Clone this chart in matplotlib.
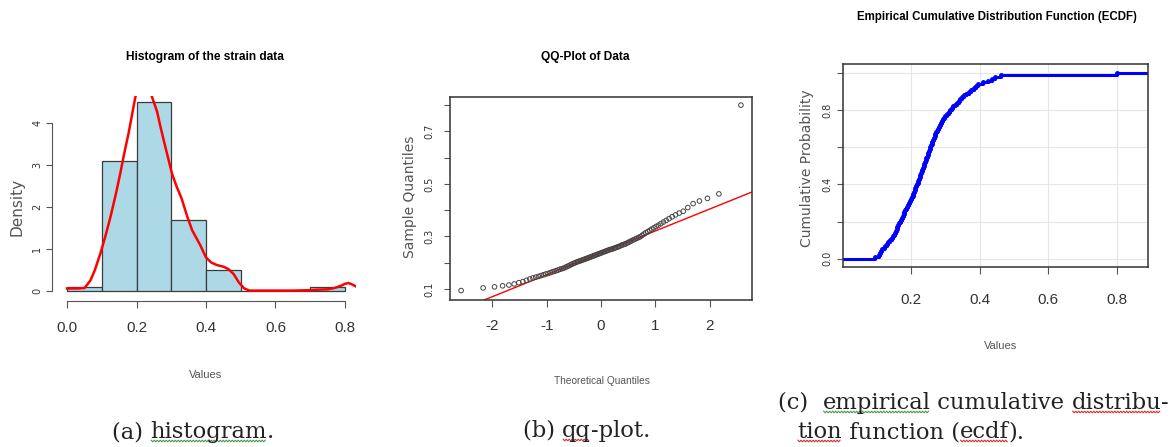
import statistics
import numpy as np
import matplotlib
matplotlib.use("Agg")
import matplotlib.pyplot as plt

strain = [0.094,
          0.104, 0.108, 0.112, 0.115, 0.119, 0.124, 0.128, 0.133, 0.138,
          0.142, 0.145, 0.148, 0.151, 0.154, 0.157, 0.159,
          0.162, 0.165, 0.167, 0.170, 0.172, 0.175, 0.177, 0.179,
          0.182, 0.185, 0.188, 0.191, 0.194, 0.197, 0.199,
          0.202, 0.204, 0.206, 0.208, 0.210, 0.212, 0.214, 0.216,
          0.218, 0.220, 0.222, 0.224, 0.226, 0.228, 0.230, 0.232, 0.234, 0.236,
          0.238, 0.240, 0.242, 0.244, 0.246, 0.248, 0.250, 0.251, 0.253, 0.255,
          0.257, 0.259, 0.261, 0.263, 0.266, 0.268, 0.270, 0.272, 0.275, 0.278,
          0.281, 0.284, 0.287, 0.290, 0.293, 0.296, 0.299,
          0.304, 0.309, 0.314, 0.318, 0.323, 0.328, 0.333, 0.338,
          0.343, 0.349, 0.355, 0.361, 0.368, 0.375, 0.382, 0.389, 0.396,
          0.410, 0.425, 0.435, 0.445, 0.462,
          0.800]

# red density curve on the histogram
kde_x = [0.000, 0.030, 0.050, 0.067, 0.080, 0.096, 0.110, 0.125, 0.140, 0.153,
         0.165, 0.177, 0.188, 0.196, 0.205, 0.215, 0.225, 0.235, 0.244, 0.252,
         0.259, 0.268, 0.278, 0.290, 0.302, 0.315, 0.330, 0.345, 0.360, 0.383,
         0.400, 0.415, 0.431, 0.450, 0.465, 0.480, 0.495, 0.510, 0.525, 0.550,
         0.600, 0.650, 0.700, 0.720, 0.750, 0.770, 0.790, 0.800, 0.810, 0.820,
         0.834]
kde_y = [0.06, 0.06, 0.07, 0.25, 0.50, 0.90, 1.30, 1.77, 2.30, 2.80,
         3.30, 3.76, 4.25, 4.60, 4.90, 5.00, 4.95, 4.85, 4.64, 4.45,
         4.28, 3.95, 3.60, 3.20, 2.80, 2.50, 2.20, 1.80, 1.45, 1.10,
         0.80, 0.68, 0.62, 0.58, 0.52, 0.40, 0.20, 0.06, 0.01, 0.01,
         0.01, 0.01, 0.02, 0.03, 0.04, 0.07, 0.13, 0.17, 0.19, 0.16,
         0.10]

hist_breaks = [0.0, 0.1, 0.2, 0.3, 0.4, 0.5, 0.6, 0.7, 0.8]
hist_xticks = [0.0, 0.2, 0.4, 0.6, 0.8]
hist_yticks = [0, 1, 2, 3, 4]
qq_xticks = [-2, -1, 0, 1, 2]
qq_yticks = [0.1, 0.2, 0.3, 0.4, 0.5, 0.6, 0.7, 0.8]
qq_ylabels = ["0.1", "", "0.3", "", "0.5", "", "0.7", ""]
ecdf_xticks = [0.2, 0.4, 0.6, 0.8]
ecdf_yticks = [0.0, 0.2, 0.4, 0.6, 0.8, 1.0]
ecdf_ylabels = ["0.0", "", "0.4", "", "0.8", ""]

W, H = 1175, 447
NARROW = ["Liberation Sans", "DejaVu Sans"]
WIDE = ["DejaVu Sans"]
SERIF = ["DejaVu Serif"]
plt.rcParams["font.family"] = NARROW

fig = plt.figure(figsize=(W / 100, H / 100), dpi=100)


def px_axes(left, top, right, bottom):
    return fig.add_axes([left / W, 1 - bottom / H, (right - left) / W, (bottom - top) / H])


def ftext(x, y, s, **kw):
    return fig.text(x / W, 1 - y / H, s, ha="center", va="center", **kw)


def style_ticks(ax, xpad, ypad, ylen=4):
    ax.tick_params(axis="x", length=5, width=0.8, color="#555555", pad=xpad,
                   labelsize=11, labelcolor="#333333")
    ax.tick_params(axis="y", length=ylen, width=0.8, color="#555555", pad=ypad,
                   labelsize=7, labelcolor="#333333")
    for lab in ax.get_yticklabels():
        lab.set_rotation(90)
        lab.set_va("center")
        lab.set_family(WIDE)


# ---- (a) histogram
ax1 = px_axes(56, 96, 356, 298.5)
ax1.hist(strain, bins=hist_breaks, density=True, color="lightblue",
         edgecolor="#3c3c3c", linewidth=0.9)
ax1.plot(kde_x, kde_y, color="red", linewidth=1.8)
ax1.set_xlim(-0.032, 0.832)
ax1.set_ylim(-0.179, 4.65)
for side in ["top", "right"]:
    ax1.spines[side].set_visible(False)
ax1.spines["left"].set_bounds(0, 4)
ax1.spines["bottom"].set_bounds(0, 0.8)
ax1.spines["left"].set_position(("outward", 3))
ax1.spines["bottom"].set_position(("outward", 2))
for side in ["left", "bottom"]:
    ax1.spines[side].set_color("#555555")
    ax1.spines[side].set_linewidth(0.8)
ax1.set_xticks(hist_xticks)
ax1.set_xticklabels(["%.1f" % v for v in hist_xticks])
ax1.set_yticks(hist_yticks)
ax1.set_yticklabels([str(v) for v in hist_yticks])
style_ticks(ax1, 9, 3)

ftext(205, 57, "Histogram of the strain data", fontsize=8.6, fontweight="bold")
ftext(17, 207, "Density", rotation=90, fontsize=11, color="#555555", family=WIDE)
ftext(206, 375, "Values", fontsize=8, color="#555555")

# ---- (b) qq-plot
ax2 = px_axes(450, 97, 752, 300)
n = len(strain)
nd = statistics.NormalDist()
theo = [nd.inv_cdf((i + 0.5) / n) for i in range(n)]
ax2.scatter(theo, sorted(strain), s=11, facecolors="none", edgecolors="#444444",
            linewidths=0.7, zorder=3)
q1, q3 = np.percentile(strain, [25, 75])
z1, z3 = nd.inv_cdf(0.25), nd.inv_cdf(0.75)
slope = (q3 - q1) / (z3 - z1)
ax2.axline((z1, q1), slope=slope, color="red", linewidth=1.0, zorder=2)
ax2.set_xlim(-2.78, 2.78)
ax2.set_ylim(0.058, 0.831)
ax2.set_xticks(qq_xticks)
ax2.set_xticklabels([str(v) for v in qq_xticks])
ax2.set_yticks(qq_yticks)
ax2.set_yticklabels(qq_ylabels)
for sp in ax2.spines.values():
    sp.set_color("#333333")
    sp.set_linewidth(1.1)
style_ticks(ax2, 9, 7)

ftext(585, 57, "QQ-Plot of Data", fontsize=8.6, fontweight="bold")
ftext(410, 197, "Sample Quantiles", rotation=90, fontsize=10, color="#555555", family=WIDE)
ftext(602, 381, "Theoretical Quantiles", fontsize=7.3, color="#555555")

# ---- (c) ecdf
ax3 = px_axes(843, 64, 1148, 267)
xs = sorted(strain)
ys = [(i + 1) / n for i in range(n)]
xlo, xhi = 0.0, 0.892
ax3.step([xlo] + xs + [xhi], [0.0] + ys + [1.0], where="post", color="blue", linewidth=2.2)
ax3.plot(xs, ys, "o", color="blue", markersize=2.5)
ax3.set_xlim(xlo, xhi)
ax3.set_ylim(-0.045, 1.049)
ax3.grid(True, color="#e6e6e6", linewidth=0.8)
ax3.set_axisbelow(True)
ax3.set_xticks(ecdf_xticks)
ax3.set_xticklabels(["%.1f" % v for v in ecdf_xticks])
ax3.set_yticks(ecdf_yticks)
ax3.set_yticklabels(ecdf_ylabels)
for sp in ax3.spines.values():
    sp.set_color("#333333")
    sp.set_linewidth(1.1)
style_ticks(ax3, 14, 4)

ftext(997, 17, "Empirical Cumulative Distribution Function (ECDF)", fontsize=8.3,
      fontweight="bold")
ftext(807, 168, "Cumulative Probability", rotation=90, fontsize=10, color="#555555",
      family=WIDE)
ftext(1001, 346, "Values", fontsize=8, color="#555555")

# ---- captions, with the word processor's spell-check squiggles
renderer = fig.canvas.get_renderer()


def squiggle(x0, x1, y, color):
    xx = np.arange(x0, x1 + 0.1, 1.5)
    yy = y + np.where(np.arange(len(xx)) % 2 == 0, 0.8, -0.8)
    fig.add_artist(plt.Line2D(xx / W, yy / H, color=color, linewidth=0.8))


def caption(parts, x, y, size=16.3):
    # x, y: left edge and centre line in pixels from the top-left corner
    for txt, col in parts:
        t = fig.text(x / W, 1 - y / H, txt, ha="left", va="center", fontsize=size,
                     family=SERIF, color="#222222")
        bb = t.get_window_extent(renderer)
        if col:
            squiggle(bb.x0 + 1, bb.x1 - 1, bb.y0 + 2, col)
        x = bb.x1


GREEN, RED = "#4a9a4a", "#d03030"
caption([("(a) ", None), ("histogram", GREEN), (".", None)], 112, 432)
caption([("(b) ", None), ("qq", RED), ("-plot.", None)], 523, 431)
caption([("(c)  ", None), ("empirical", GREEN), (" cumulative ", None),
         ("distribu", RED), ("-", None)], 778, 403)
caption([("tion", RED), (" function (", None), ("ecdf", RED), (").", None)], 797, 432)

fig.savefig("out.png", dpi=100, facecolor="white")
